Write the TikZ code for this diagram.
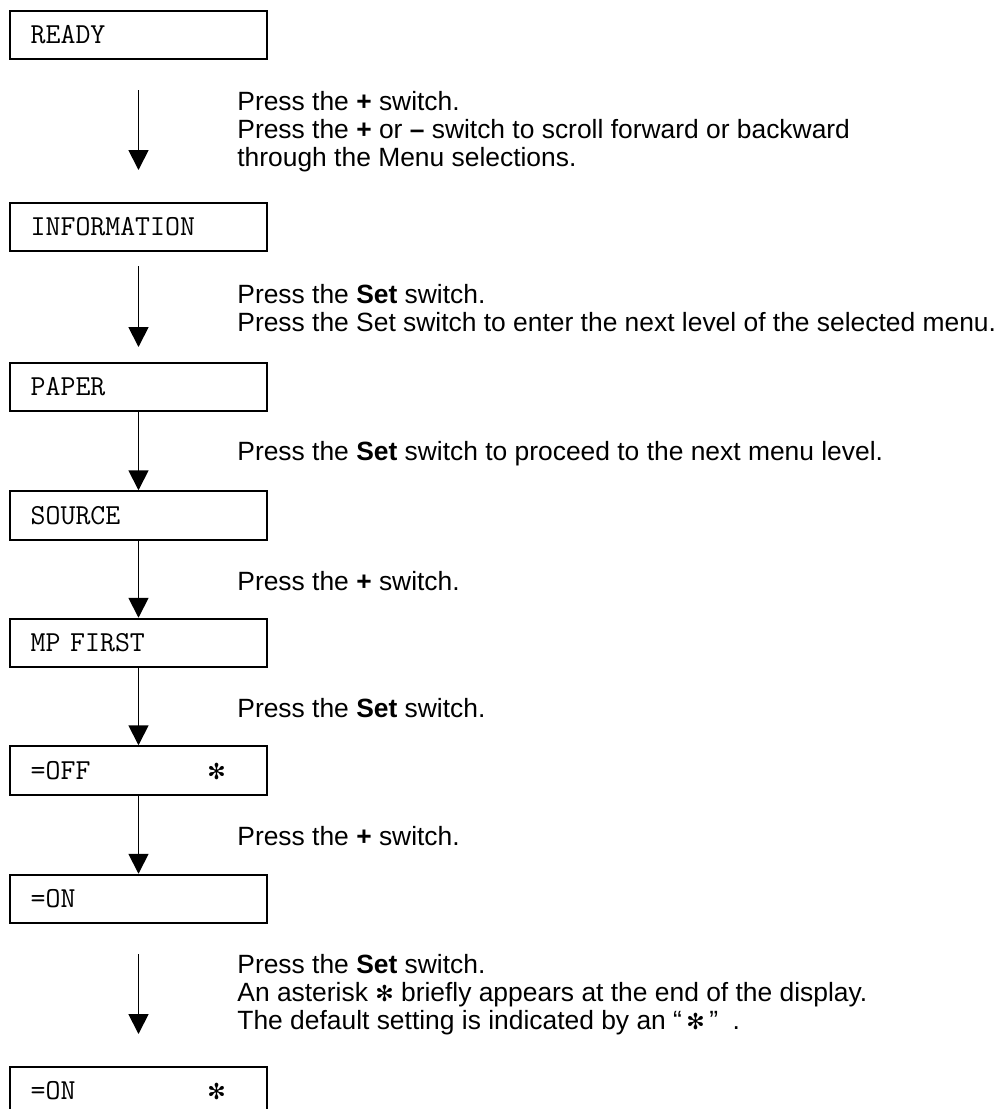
\documentclass[tikz,border=0pt]{standalone}
\usepackage{fontspec}
\setmainfont{Liberation Sans}
\newfontfamily\symfont{DejaVu Sans}
\usetikzlibrary{arrows.meta}

\newcommand{\defmark}{{\symfont\fontsize{11pt}{11pt}\selectfont ✻}}
\newcommand{\lines}[1]{\begin{tabular}[t]{@{}l@{}}#1\end{tabular}}

\begin{document}
\begin{tikzpicture}[
x=0.5pt, y=-0.5pt,
font=\fontsize{13.2pt}{14pt}\selectfont,
screen/.style={
	rectangle,
	draw,
	line width=1pt,
	align=left,
	text width=107.8pt,
	inner xsep=10.35pt,
	inner ysep=0pt,
	minimum height=24.25pt,
	font=\fontsize{14.5pt}{15pt}\selectfont\ttfamily
},
note/.style={
	anchor=base west,
	inner sep=0pt
},
arrow/.style={-{Triangle[width=10pt,length=10pt]}, line width=0.9pt}
]
\useasboundingbox (0,0) rectangle (1004,1109);

\node[screen] (ready) at (138.5,35) {READY};
\node[screen] (info) at (138.5,227) {INFORMATION};
\node[screen] (paper) at (138.5,387) {PAPER};
\node[screen] (source) at (138.5,515.5) {SOURCE};
\node[screen] (mpfirst) at (138.5,643) {MP FIRST};
\node[screen] (off) at (138.5,770.5) {\makebox[93pt][l]{=OFF}\makebox[0pt]{\defmark}};
\node[screen] (on) at (138.5,899) {=ON};
\node[screen] (onset) at (138.5,1091) {\makebox[93pt][l]{=ON}\makebox[0pt]{\defmark}};

\coordinate (a1s) at (138.5,90);
\coordinate (a1e) at (138.5,170);
\coordinate (a2s) at (138.5,266);
\coordinate (a2e) at (138.5,347);
\coordinate (a7s) at (138.5,954);
\coordinate (a7e) at (138.5,1034);

\draw[arrow] (a1s) -- (a1e);
\draw[arrow] (a2s) -- (a2e);
\draw[arrow] (paper) -- (source);
\draw[arrow] (source) -- (mpfirst);
\draw[arrow] (mpfirst) -- (off);
\draw[arrow] (off) -- (on);
\draw[arrow] (a7s) -- (a7e);

\node[note] (t1) at (237,110) {\lines{
	Press the \textbf{+} switch.\\
	Press the \textbf{+} or \textbf{--} switch to scroll forward or backward\\
	through the Menu selections.
}};
\node[note] (t2) at (237,303) {\lines{
	Press the \textbf{Set} switch.\\
	Press the Set switch to enter the next level of the selected menu.
}};
\node[note] (t3) at (237,460) {Press the \textbf{Set} switch to proceed to the next menu level.};
\node[note] (t4) at (237,590) {Press the \textbf{+} switch.};
\node[note] (t5) at (237,717) {Press the \textbf{Set} switch.};
\node[note] (t6) at (237,845) {Press the \textbf{+} switch.};
\node[note] (t7) at (237,973) {\lines{
	Press the \textbf{Set} switch.\\
	An asterisk \defmark\ briefly appears at the end of the display.\\
	The default setting is indicated by an “\,\defmark\,”\ \ .
}};

\end{tikzpicture}
\end{document}
